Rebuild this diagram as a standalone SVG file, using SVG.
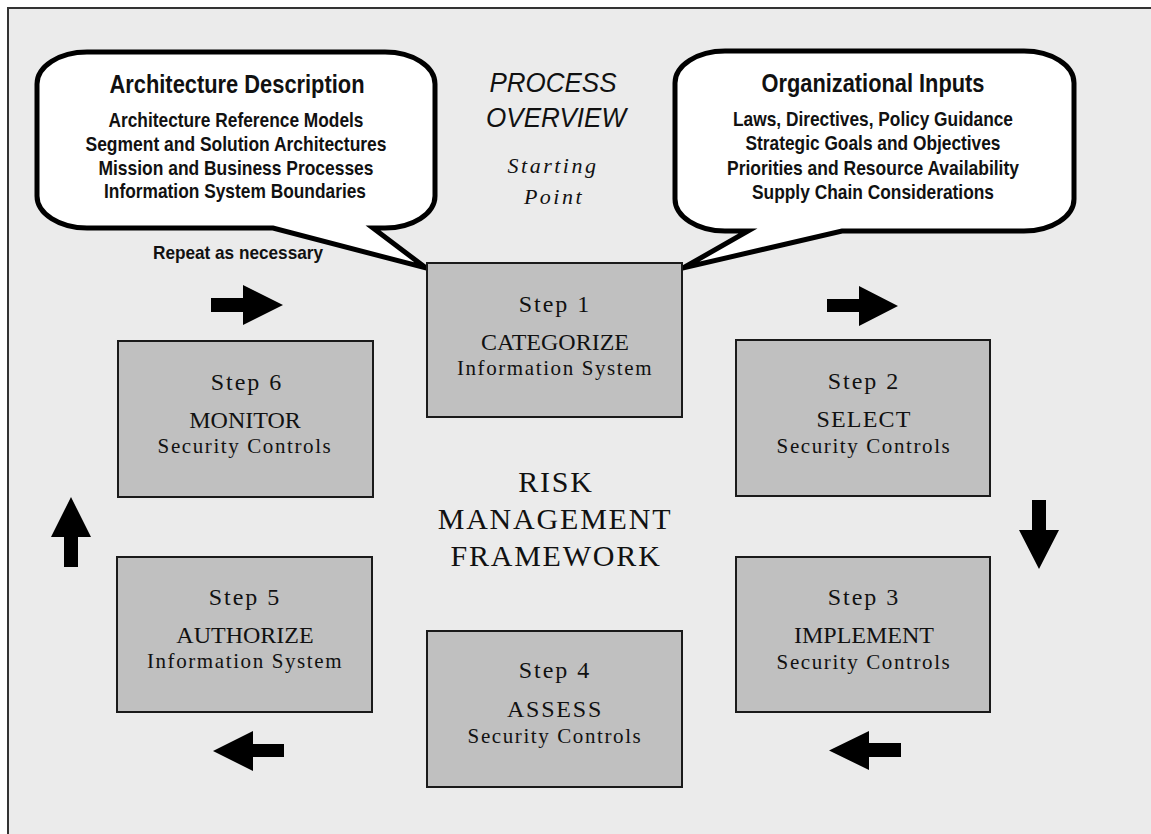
<svg xmlns="http://www.w3.org/2000/svg" width="1151" height="834" viewBox="0 0 1151 834">
<style>
.frame{fill:#ebebeb;stroke:#333;stroke-width:2}
.bubble{fill:#fff;stroke:#000;stroke-width:5;stroke-linejoin:miter;stroke-miterlimit:10}
.box{fill:#c0c0c0;stroke:#1a1a1a;stroke-width:2}
.arrow{fill:#000}
.sans{font-family:"Liberation Sans",Arial,sans-serif;fill:#111;text-anchor:middle}
.bt{font-size:26px;font-weight:bold}
.bl{font-size:21px;font-weight:bold}
.rep{font-size:19px;font-weight:bold}
.po{font-family:"Liberation Sans",Arial,sans-serif;font-style:italic;font-size:28px;fill:#111;text-anchor:middle}
.sp{font-family:"Liberation Serif","Times New Roman",serif;font-style:italic;font-size:22px;letter-spacing:2.5px;fill:#111;text-anchor:middle}
.serif{font-family:"Liberation Serif","Times New Roman",serif;fill:#111;text-anchor:middle}
.step{font-size:24px;letter-spacing:2px}
.ttl{font-size:24px}
.sub{font-size:21px;letter-spacing:1.6px}
.rmf{font-size:30px;letter-spacing:1.8px}
</style>
<rect class="frame" x="8" y="8" width="2000" height="2000"/>

<g id="architecture-description">
<path class="bubble" d="M87,52 H385 A50,32 0 0 1 435,84 V196 A50,32 0 0 1 385,228 H373 L426,268 L273,228 H87 A50,32 0 0 1 37,196 V84 A50,32 0 0 1 87,52 Z"/>
<text class="sans bt" x="237" y="93" textLength="255" lengthAdjust="spacingAndGlyphs">Architecture Description</text>
<text class="sans bl" x="236" y="127" textLength="255" lengthAdjust="spacingAndGlyphs">Architecture Reference Models</text>
<text class="sans bl" x="236" y="151" textLength="301" lengthAdjust="spacingAndGlyphs">Segment and Solution Architectures</text>
<text class="sans bl" x="236" y="175" textLength="275" lengthAdjust="spacingAndGlyphs">Mission and Business Processes</text>
<text class="sans bl" x="235" y="198" textLength="262" lengthAdjust="spacingAndGlyphs">Information System Boundaries</text>
</g>

<g id="organizational-inputs">
<path class="bubble" d="M725,51 H1024 A50,32 0 0 1 1074,83 V199 A50,32 0 0 1 1024,231 H842 L683,268 L748,231 H725 A50,32 0 0 1 675,199 V83 A50,32 0 0 1 725,51 Z"/>
<text class="sans bt" x="873" y="92" textLength="223" lengthAdjust="spacingAndGlyphs">Organizational Inputs</text>
<text class="sans bl" x="873" y="126" textLength="280" lengthAdjust="spacingAndGlyphs">Laws, Directives, Policy Guidance</text>
<text class="sans bl" x="873" y="150" textLength="255" lengthAdjust="spacingAndGlyphs">Strategic Goals and Objectives</text>
<text class="sans bl" x="873" y="175" textLength="292" lengthAdjust="spacingAndGlyphs">Priorities and Resource Availability</text>
<text class="sans bl" x="873" y="199" textLength="242" lengthAdjust="spacingAndGlyphs">Supply Chain Considerations</text>
</g>

<g id="process-overview">
<text class="po" x="553" y="92" textLength="127" lengthAdjust="spacingAndGlyphs">PROCESS</text>
<text class="po" x="556" y="127" textLength="140" lengthAdjust="spacingAndGlyphs">OVERVIEW</text>
<text class="sp" x="553" y="173">Starting</text>
<text class="sp" x="554" y="204">Point</text>
</g>

<g id="repeat-label">
<text class="sans rep" x="238" y="259" textLength="170" lengthAdjust="spacingAndGlyphs">Repeat as necessary</text>
</g>

<g id="step1">
<rect class="box" x="427" y="263" width="255" height="154"/>
<text class="serif step" x="555" y="312">Step 1</text>
<text class="serif ttl" x="555" y="350">CATEGORIZE</text>
<text class="serif sub" x="555" y="375">Information System</text>
</g>

<g id="step2">
<rect class="box" x="736" y="340" width="254" height="156"/>
<text class="serif step" x="864" y="389">Step 2</text>
<text class="serif ttl" x="864" y="427" style="letter-spacing:1.2px">SELECT</text>
<text class="serif sub" x="864" y="453">Security Controls</text>
</g>

<g id="step3">
<rect class="box" x="736" y="557" width="254" height="155"/>
<text class="serif step" x="864" y="605">Step 3</text>
<text class="serif ttl" x="864" y="643">IMPLEMENT</text>
<text class="serif sub" x="864" y="669">Security Controls</text>
</g>

<g id="step4">
<rect class="box" x="427" y="631" width="255" height="156"/>
<text class="serif step" x="555" y="678">Step 4</text>
<text class="serif ttl" x="555" y="717" style="letter-spacing:1.8px">ASSESS</text>
<text class="serif sub" x="555" y="743">Security Controls</text>
</g>

<g id="step5">
<rect class="box" x="117" y="557" width="255" height="155"/>
<text class="serif step" x="245" y="605">Step 5</text>
<text class="serif ttl" x="245" y="643">AUTHORIZE</text>
<text class="serif sub" x="245" y="668">Information System</text>
</g>

<g id="step6">
<rect class="box" x="118" y="341" width="255" height="156"/>
<text class="serif step" x="247" y="390">Step 6</text>
<text class="serif ttl" x="245" y="428">MONITOR</text>
<text class="serif sub" x="245" y="453">Security Controls</text>
</g>

<g id="title">
<text class="serif rmf" x="556" y="492">RISK</text>
<text class="serif rmf" x="555" y="529">MANAGEMENT</text>
<text class="serif rmf" x="556" y="566">FRAMEWORK</text>
</g>

<g id="connectors">
<polygon class="arrow" points="211,298 243,298 243,285 283,305 243,325 243,312 211,312"/>
<polygon class="arrow" points="827,299 859,299 859,286 898,306 859,326 859,312 827,312"/>
<polygon class="arrow" points="1032,500 1046,500 1046,530 1059,530 1039,569 1019,530 1032,530"/>
<polygon class="arrow" points="901,743 869,743 869,731 829,750.5 869,770 869,757 901,757"/>
<polygon class="arrow" points="284,744 253,744 253,731 213,751 253,771 253,757 284,757"/>
<polygon class="arrow" points="64,567 64,537 51,537 71,497 91,537 78,537 78,567"/>
</g>
</svg>
